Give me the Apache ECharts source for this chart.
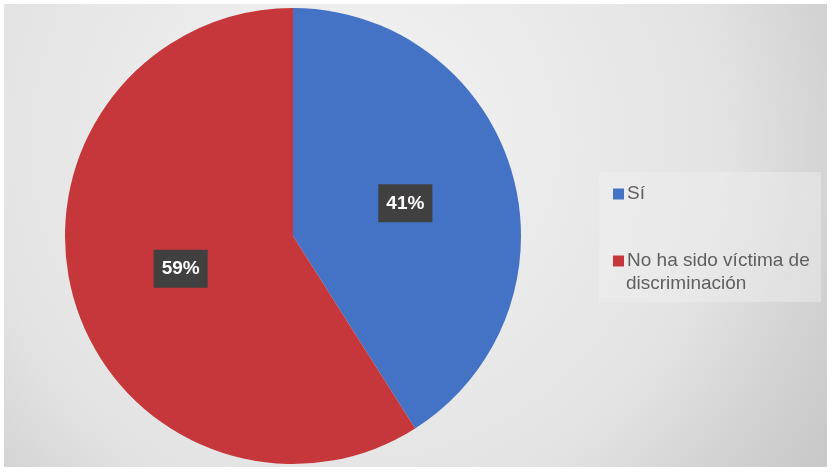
<!DOCTYPE html>
<html>
<head>
<meta charset="utf-8">
<script src="https://cdn.jsdelivr.net/npm/echarts@6/dist/echarts.min.js"></script>
<style>
html, body { margin: 0; padding: 0; background: #ffffff; }
#main { width: 835px; height: 475px; }
</style>
</head>
<body>
<div id="main"></div>
<script>
// datos del grafico
var categorias = ['Sí', 'No ha sido víctima de discriminación'];
var valores = [41, 59];
var colores = ['#4472C4', '#C5373A'];

var datalist = [];
for (var i = 0; i < categorias.length; i++) {
    datalist.push({ name: categorias[i], value: valores[i], itemStyle: { color: colores[i] } });
}

var myChart = echarts.init(document.getElementById('main'));
var option = {
    backgroundColor: '#ffffff',
    animation: false,
    graphic: [
        {// fondo degradado
            type: 'rect', z: -10, silent: true,
            shape: { x: 4, y: 4, width: 823, height: 463 },
            style: {
                fill: {
                    type: 'radial', x: 0.42, y: 0.3, r: 1.3,
                    colorStops: [
                        { offset: 0, color: '#f4f4f4' },
                        { offset: 0.62, color: '#e3e3e3' },
                        { offset: 0.8, color: '#d3d3d3' },
                        { offset: 0.92, color: '#cacaca' },
                        { offset: 1, color: '#c8c8c8' }
                    ]
                }
            }
        },
        {// caja de la leyenda
            type: 'rect', z: -5, silent: true,
            shape: { x: 599, y: 172, width: 222, height: 130 },
            style: { fill: 'rgba(240,240,240,0.45)' }
        },
        {// segunda linea de la leyenda
            type: 'text', z: 10, silent: true,
            left: 626, top: 274,
            style: { text: 'discriminación', fill: '#5f5f5f', font: '19px "Liberation Sans", Arial, sans-serif' }
        }
    ],
    legend: {
        orient: 'vertical',
        left: 608,
        top: 179,
        itemWidth: 11,
        itemHeight: 11,
        itemGap: 47,
        icon: 'rect',
        data: categorias,
        formatter: function (name) {
            return name === categorias[1] ? 'No ha sido víctima de' : name;
        },
        textStyle: {
            color: '#5f5f5f',
            fontSize: 19,
            fontFamily: '"Liberation Sans", Arial, sans-serif',
            lineHeight: 20,
            padding: [0, 0, 0, -2]
        }
    },
    series: [
        {
            type: 'pie',
            center: [293, 236],
            radius: 228,
            startAngle: 90,
            clockwise: true,
            data: datalist,
            label: {
                show: true,
                position: 'inside',
                formatter: '{c}%',
                color: '#ffffff',
                fontSize: 19,
                fontWeight: 'bold',
                fontFamily: '"Liberation Sans", Arial, sans-serif',
                backgroundColor: '#404040',
                padding: [9, 8],
                lineHeight: 20
            },
            labelLine: { show: false },
            itemStyle: { borderWidth: 0 }
        }
    ]
};
myChart.setOption(option);
</script>
</body>
</html>
